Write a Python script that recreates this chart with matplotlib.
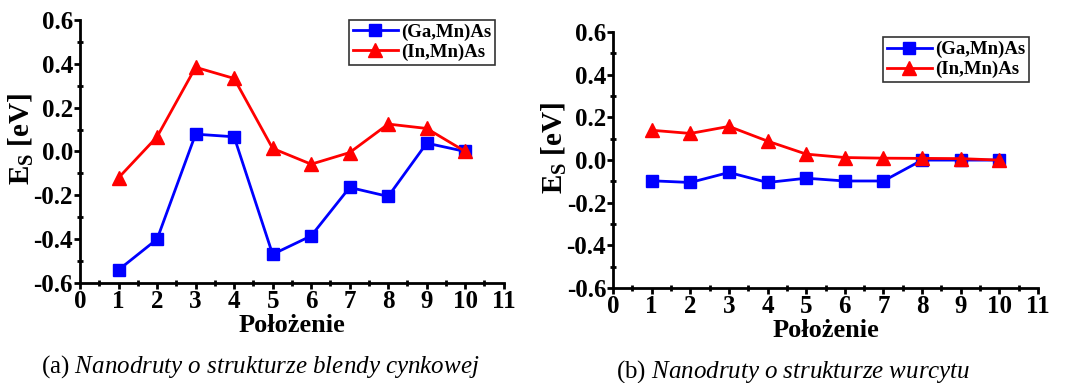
import matplotlib
matplotlib.use("Agg")
import matplotlib.pyplot as plt
from matplotlib.ticker import MultipleLocator, FormatStrFormatter

plt.rcParams['font.family'] = ['Liberation Serif', 'DejaVu Serif']
plt.rcParams['font.weight'] = 'normal'
plt.rcParams['axes.unicode_minus'] = False
plt.rcParams['mathtext.fontset'] = 'custom'
plt.rcParams['mathtext.rm'] = 'Liberation Serif'
plt.rcParams['mathtext.it'] = 'Liberation Serif:italic'
plt.rcParams['mathtext.bf'] = 'Liberation Serif:bold'

positions = [1, 2, 3, 4, 5, 6, 7, 8, 9, 10]

# (a) zinc blende nanowires
ga_zb = [-0.54, -0.40, 0.079, 0.067, -0.469, -0.385, -0.164, -0.205, 0.038, 0.0]
in_zb = [-0.12, 0.067, 0.384, 0.333, 0.014, -0.058, -0.005, 0.125, 0.105, 0.0]

# (b) wurtzite nanowires
ga_wz = [-0.097, -0.105, -0.058, -0.105, -0.085, -0.098, -0.098, 0.0, 0.0, 0.0]
in_wz = [0.14, 0.125, 0.158, 0.089, 0.028, 0.012, 0.009, 0.008, 0.007, 0.0]

series_names = ['(Ga,Mn)As', '(In,Mn)As']
captions = [r'(a) $\mathit{Nanodruty\ o\ strukturze\ blendy\ cynkowej}$',
            r'(b) $\mathit{Nanodruty\ o\ strukturze\ wurcytu}$']

fig = plt.figure(figsize=(10.7, 3.83), dpi=100)
ax1 = fig.add_axes([0.0748, 0.261, 0.396, 0.687])
ax2 = fig.add_axes([0.573, 0.248, 0.397, 0.668])


def draw(ax, ga, inn, legend_anchor):
    ax.plot(positions, ga, color='#0000ff', lw=2, marker='s', ms=8.5, label=series_names[0])
    ax.plot(positions, inn, color='#ff0000', lw=2, marker='^', ms=10, label=series_names[1])
    ax.set_xlim(0, 11)
    ax.set_ylim(-0.6, 0.6)
    ax.xaxis.set_major_locator(MultipleLocator(1))
    ax.xaxis.set_minor_locator(MultipleLocator(0.5))
    ax.yaxis.set_major_locator(MultipleLocator(0.2))
    ax.yaxis.set_minor_locator(MultipleLocator(0.1))
    ax.yaxis.set_major_formatter(FormatStrFormatter('%.1f'))
    ax.spines['top'].set_visible(False)
    ax.spines['right'].set_visible(False)
    ax.spines['left'].set_linewidth(2)
    ax.spines['bottom'].set_linewidth(2)
    ax.tick_params(which='major', direction='out', length=4, width=2, labelsize=18, pad=1)
    ax.tick_params(which='minor', direction='inout', length=4, width=2)
    for lab in ax.get_xticklabels() + ax.get_yticklabels():
        lab.set_fontweight('bold')
    ax.set_xlabel('Położenie', fontsize=19, fontweight='bold', labelpad=1)
    ax.set_ylabel(r'$\mathbf{E}_\mathbf{S}$ [eV]', fontsize=21, fontweight='bold')
    ax.yaxis.set_label_coords(-0.105, 0.547)
    leg = ax.legend(loc='upper right', bbox_to_anchor=legend_anchor, fontsize=13.5,
                    frameon=True, fancybox=False, edgecolor='black', handlelength=2.4,
                    handletextpad=0.2, borderpad=0.2, labelspacing=0.15, borderaxespad=0)
    leg.get_frame().set_linewidth(1.2)
    for t in leg.get_texts():
        t.set_fontweight('bold')


draw(ax1, ga_zb, in_zb, (0.98, 1.0))
draw(ax2, ga_wz, in_wz, (0.98, 0.98))

fig.text(0.243, 0.042, captions[0], fontsize=18, ha='center', va='center')
fig.text(0.741, 0.030, captions[1], fontsize=18, ha='center', va='center')

fig.savefig('out.png', dpi=100)
